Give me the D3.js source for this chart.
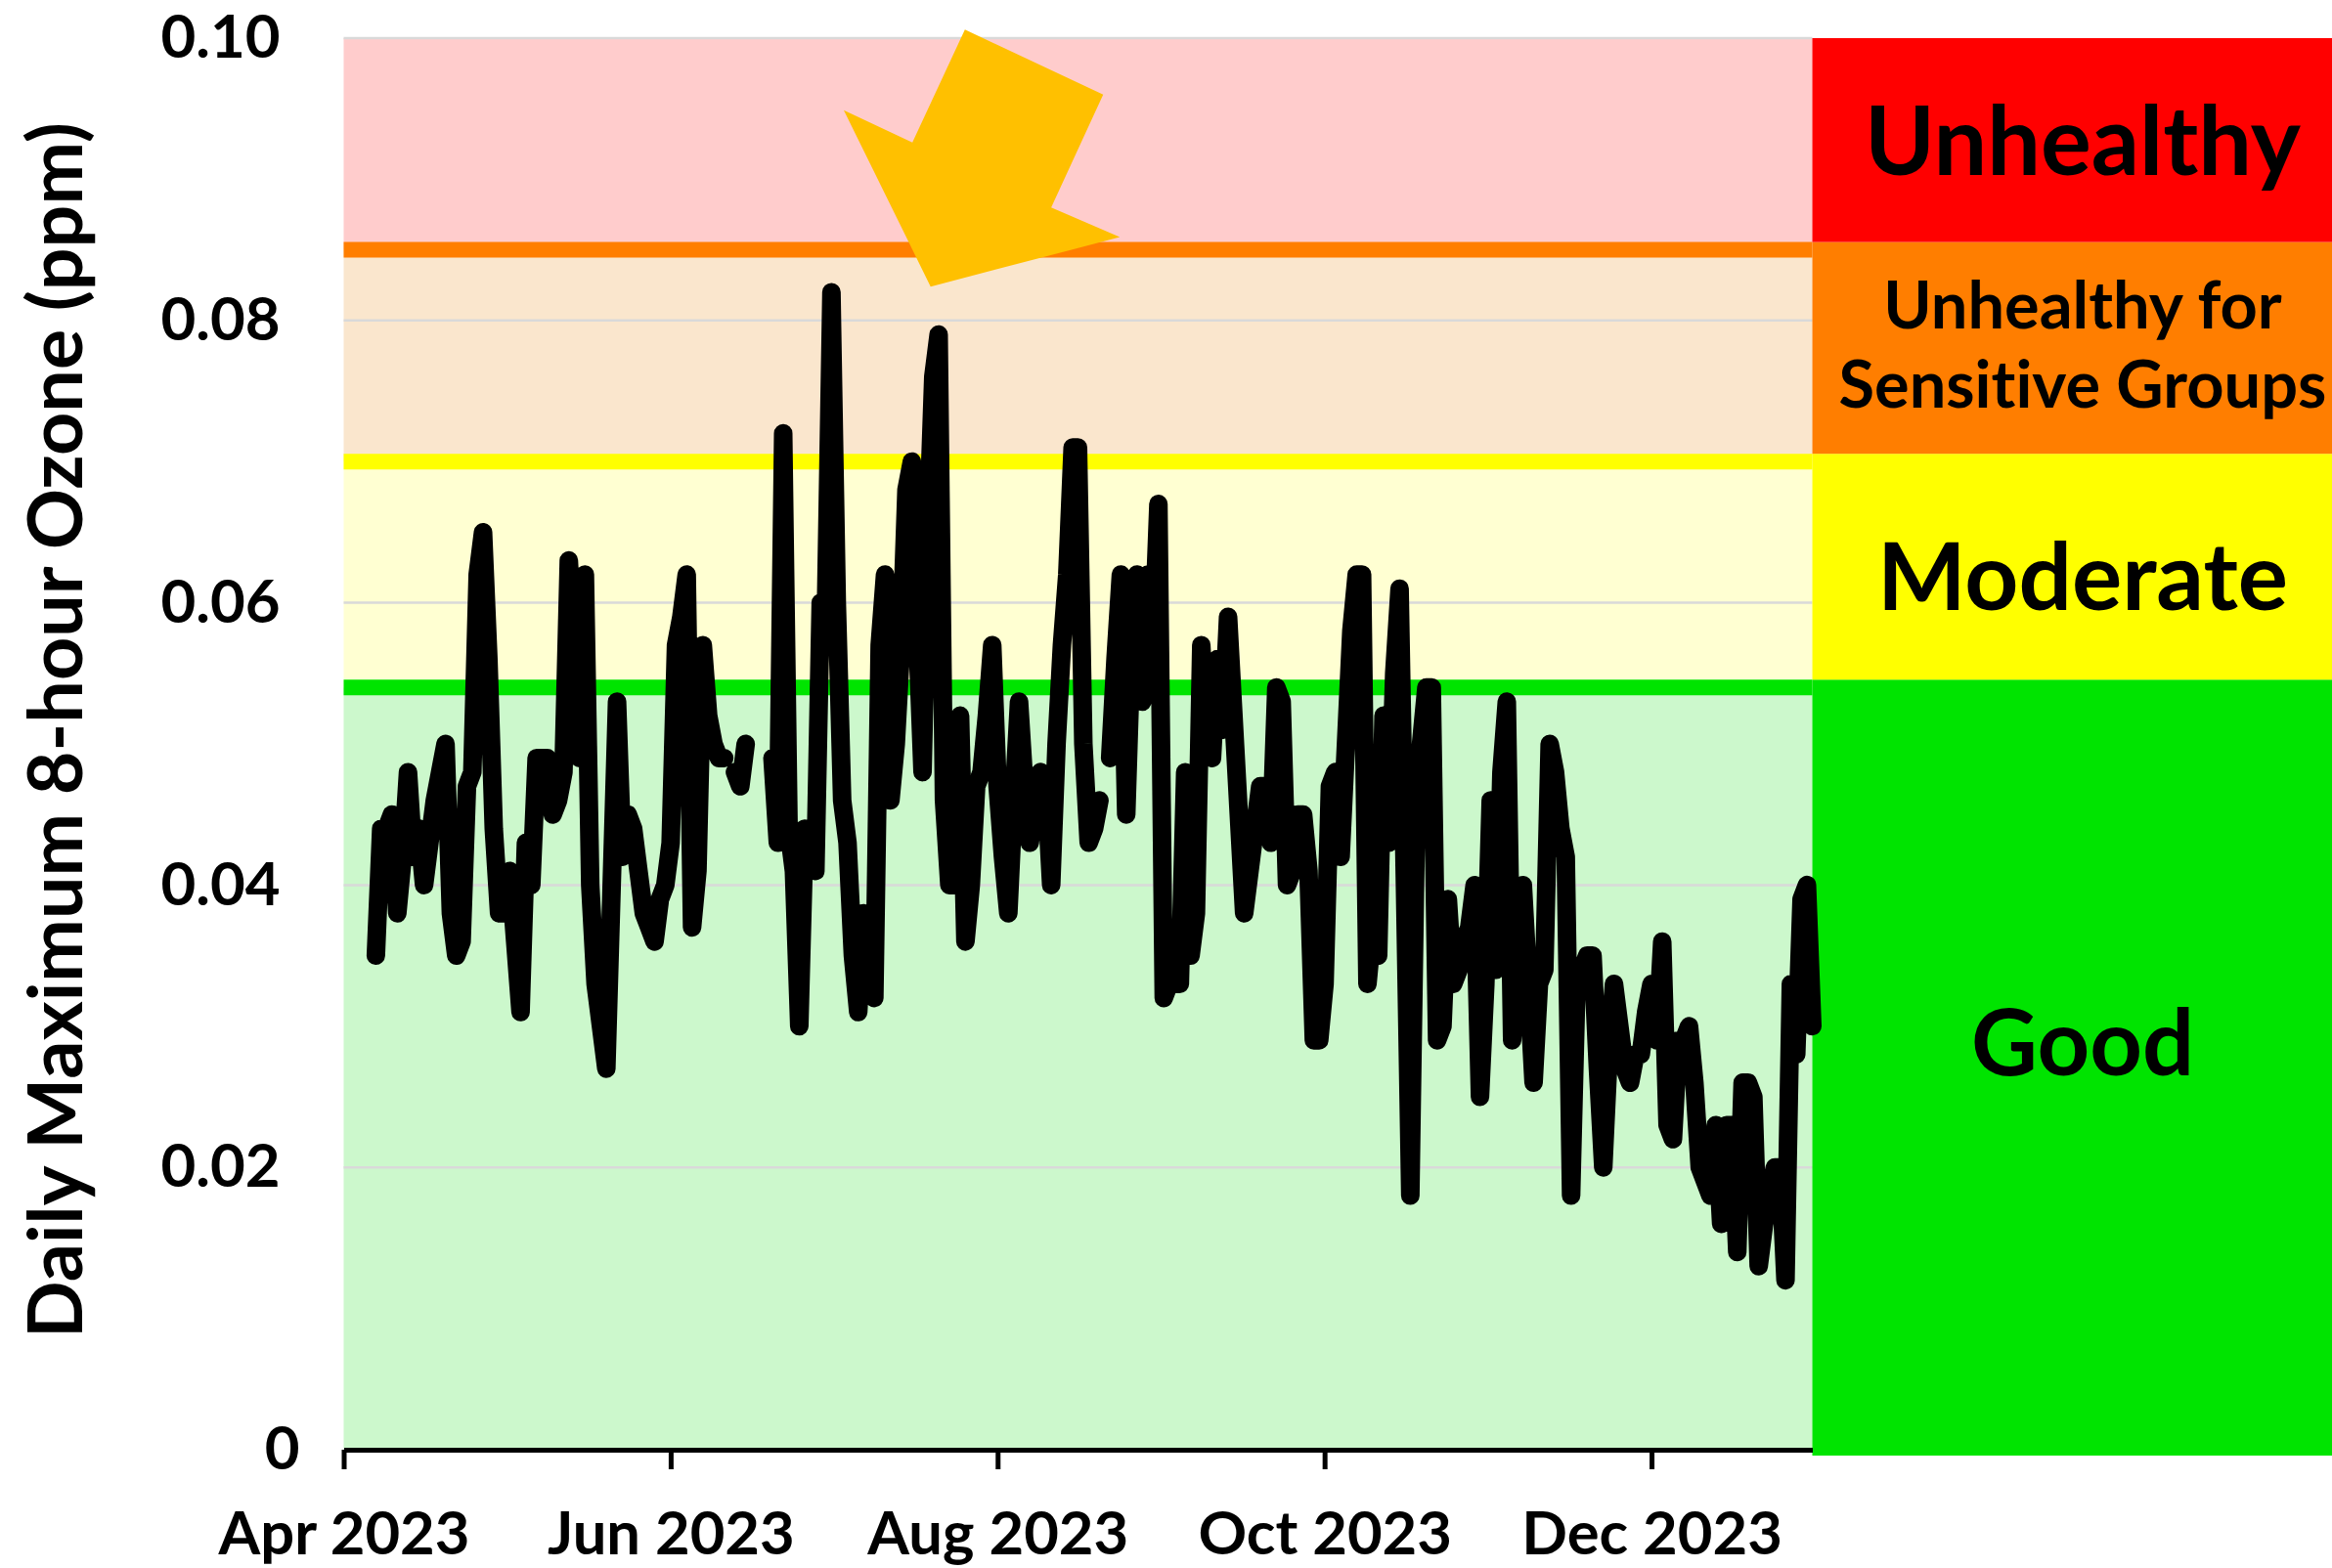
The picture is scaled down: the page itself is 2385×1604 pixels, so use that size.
<!DOCTYPE html>
<html>
<head>
<meta charset="utf-8">
<script src="https://cdn.jsdelivr.net/npm/d3@7"></script>
<style>
  body { margin: 0; background: #ffffff; }
  svg text { font-family: Lato, "Open Sans", sans-serif; font-weight: bold; fill: #000; font-variant-ligatures: none; }
</style>
</head>
<body>
<script>
// Daily maximum 8-hour ozone (ppm), one array per month, day 1 first.
// null = no measurement that day (breaks the line).
const apr = [null, null, null, null, null, null,
  .035, .044, .044, .045, .038, .042, .048, .042, .044, .040, .043, .046, .048, .050,
  .038, .035, .036, .047, .048, .062, .065, .056, .044, .038];
const may = [.038, .041, .036, .031, .043, .040, .049, .049, .049, .045, .046, .048, .063, .056, .049, .062,
  .040, .033, .030, .027, .040, .053, .042, .045, .044, .041, .038, .037, .036, .039, .040];
const jun = [.043, .057, .059, .062, .037, .041, .057, .052, .050, .049, .049, null, .048, .047, .050,
  null, null, null, null, .049, .043, .072, .044, .041, .030, .044, .042, .041, .060, .060];
const jul = [.082, .060, .046, .043, .035, .031, .038, .035, .032, .057, .062, .046, .050, .057, .068, .070,
  .058, .048, .065, .076, .079, .046, .040, .040, .052, .036, .040, .047, .048, .052, .057];
const aug = [.047, .042, .038, .046, .053, .047, .043, .046, .048, .047, .040, .050, .057, .062, .071, .071,
  .050, .043, .044, .046, null, .049, .056, .062, .045, .057, .062, .053, .062, .057, .067];
const sep = [.032, .033, .033, .033, .048, .035, .038, .057, .050, .049, .056, .051, .059, .052, .045,
  .038, .041, .044, .047, .047, .043, .054, .053, .040, .041, .045, .045, .041, .029, .029];
const oct = [.033, .047, .048, .042, .050, .058, .062, .062, .033, .037, .035, .052, .043, .055, .061, .040,
  .018, .043, .050, .054, .054, .029, .030, .039, .033, .034, .036, .037, .040, .025, .033];
const nov = [.046, .034, .048, .053, .029, .035, .040, .033, .026, .033, .034, .050, .048, .044, .042,
  .018, .033, .034, .035, .035, .027, .020, .028, .033, .030, .027, .026, .028, .028, .031];
const dec = [.033, .029, .036, .023, .022, .029, .029, .030, .026, .020, .019, .018, .023, .016, .023, .023,
  .014, .026, .026, .025, .013, .016, .018, .020, .020, .012, .033, .028, .039, .040, .030];
const months = [apr, may, jun, jul, aug, sep, oct, nov, dec];

// AQI categories (ppm thresholds) and the labels of the side panel
const thresholds = [0.054, 0.070, 0.085];
const categories = ["Good", "Moderate", "Unhealthy for Sensitive Groups", "Unhealthy"];
const yTicks = [0, 0.02, 0.04, 0.06, 0.08, 0.10];
const xTickMonths = [3, 5, 7, 9, 11];   // Apr, Jun, Aug, Oct, Dec

// Annotation arrow, in [days after Apr 1, ppm]
const arrowPoints = [[115.9, 0.1006], [141.7, 0.0960], [132.0, 0.0880], [144.8, 0.0859],
  [109.5, 0.0824], [93.3, 0.0949], [106.1, 0.0926]];

// Layout
const width = 2385;
const height = 1604;
const plot = { left: 351.5, right: 1853.5, top: 39, bottom: 1483 };

const svg = d3.select("body").append("svg")
  .attr("width", width)
  .attr("height", height);

const x = d3.scaleUtc()
  .domain([new Date(Date.UTC(2023, 3, 1)), new Date(Date.UTC(2023, 11, 31))])
  .range([plot.left, plot.right]);

const y = d3.scaleLinear()
  .domain([0, 0.10])
  .range([plot.bottom, plot.top]);

// Flatten month arrays into dated points
const points = [];
months.forEach((vals, m) => {
  vals.forEach((v, i) => {
    points.push({ date: new Date(Date.UTC(2023, 3 + m, 1 + i)), v: v });
  });
});

// Background bands inside the plot
const bandColors = ["#ccf8cc", "#ffffd2", "#fae6cd", "#ffcccc"];
const bandEdges = [0, ...thresholds, 0.10];
svg.append("g").selectAll("rect")
  .data(bandColors)
  .enter()
  .append("rect")
  .attr("x", plot.left)
  .attr("width", plot.right - plot.left)
  .attr("y", (d, i) => y(bandEdges[i + 1]))
  .attr("height", (d, i) => y(bandEdges[i]) - y(bandEdges[i + 1]))
  .attr("fill", d => d);

// Gridlines
svg.append("g").selectAll("line")
  .data(yTicks.filter(t => t > 0))
  .enter()
  .append("line")
  .attr("x1", plot.left)
  .attr("x2", plot.right)
  .attr("y1", d => y(d))
  .attr("y2", d => y(d))
  .attr("stroke", "#d9d9d9")
  .attr("stroke-width", 2.5);

// Threshold lines
const lineW = 16;
const lineColors = ["#00e400", "#ffff00", "#ff7e00"];
svg.append("g").selectAll("line")
  .data(thresholds)
  .enter()
  .append("line")
  .attr("x1", plot.left)
  .attr("x2", plot.right)
  .attr("y1", d => y(d))
  .attr("y2", d => y(d))
  .attr("stroke", (d, i) => lineColors[i])
  .attr("stroke-width", lineW);

// Side panel boxes
const panelX = plot.right;
const panelColors = ["#00e400", "#ffff00", "#ff7e00", "#ff0000"];
const panelTop = [...thresholds.map(t => y(t) - lineW / 2), y(0.10)];
const panelBottom = [y(0) + 6, ...thresholds.map(t => y(t) - lineW / 2)];
svg.append("g").selectAll("rect")
  .data(panelColors)
  .enter()
  .append("rect")
  .attr("x", panelX)
  .attr("width", width - panelX)
  .attr("y", (d, i) => panelTop[i])
  .attr("height", (d, i) => panelBottom[i] - panelTop[i])
  .attr("fill", d => d);

// fit a text element to a target width
function fitText(sel, target) {
  sel.style("font-size", "100px");
  const len = sel.node().getComputedTextLength();
  const size = 100 * target / len;
  sel.style("font-size", size + "px");
  return size;
}

const panelText = svg.append("g").attr("text-anchor", "middle");
const labelX = 2130;
const t1 = panelText.append("text").attr("x", labelX).attr("y", 179).text(categories[3]);
fitText(t1, 446);
const t2 = panelText.append("text").attr("x", labelX).attr("y", 336).text("Unhealthy for");
const t3 = panelText.append("text").attr("x", labelX).attr("y", 417).text("Sensitive Groups");
const usgSize = fitText(t3, 499);
t2.style("font-size", usgSize + "px");
const t4 = panelText.append("text").attr("x", labelX).attr("y", 624).text(categories[1]);
fitText(t4, 420);
const t5 = panelText.append("text").attr("x", labelX).attr("y", 1100).text(categories[0]);
fitText(t5, 228);

// Ozone line
const line = d3.line()
  .defined(d => d.v !== null)
  .x(d => x(d.date))
  .y(d => y(d.v));

svg.append("path")
  .datum(points)
  .attr("d", line)
  .attr("fill", "none")
  .attr("stroke", "#000")
  .attr("stroke-width", 19)
  .attr("stroke-linejoin", "round")
  .attr("stroke-linecap", "round");

// X axis
const xAxis = svg.append("g")
  .attr("transform", `translate(0, ${plot.bottom})`)
  .call(d3.axisBottom(x)
    .tickValues(xTickMonths.map(m => new Date(Date.UTC(2023, m, 1))))
    .tickFormat(d3.utcFormat("%b %Y"))
    .tickSizeInner(20)
    .tickSizeOuter(0));
xAxis.select(".domain").attr("stroke", "#000").attr("stroke-width", 5);
xAxis.selectAll(".tick line").attr("stroke", "#000").attr("stroke-width", 5);
xAxis.selectAll(".tick text").attr("y", 107).attr("dy", null).attr("font-family", null).attr("font-size", null);
const xSize = fitText(xAxis.select(".tick text"), 257);
xAxis.selectAll(".tick text").style("font-size", xSize + "px");

// Y axis labels
const yAxis = svg.append("g")
  .attr("transform", `translate(${plot.left}, 0)`)
  .call(d3.axisLeft(y)
    .tickValues(yTicks)
    .tickFormat(d => d === 0 ? "0" : d3.format(".2f")(d))
    .tickSize(0)
    .tickPadding(65));
yAxis.select(".domain").remove();
yAxis.selectAll(".tick text").attr("font-family", null).attr("font-size", null);
const ySize = fitText(yAxis.selectAll(".tick text").filter(d => d === 0.10), 122);
yAxis.selectAll(".tick text").style("font-size", ySize + "px");
// the zero label sits a little further right in the original
yAxis.selectAll(".tick text").filter(d => d === 0).attr("x", -45);

// Y axis title
const yTitle = svg.append("text")
  .attr("transform", "rotate(-90)")
  .attr("x", -747)
  .attr("y", 84)
  .style("text-anchor", "middle")
  .text("Daily Maximum 8-hour Ozone (ppm)");
fitText(yTitle, 1244);

// Arrow annotation
const day0 = Date.UTC(2023, 3, 1);
svg.append("polygon")
  .attr("points", arrowPoints.map(p => [x(new Date(day0 + p[0] * 864e5)), y(p[1])].join(",")).join(" "))
  .attr("fill", "#ffc000");
</script>
</body>
</html>
